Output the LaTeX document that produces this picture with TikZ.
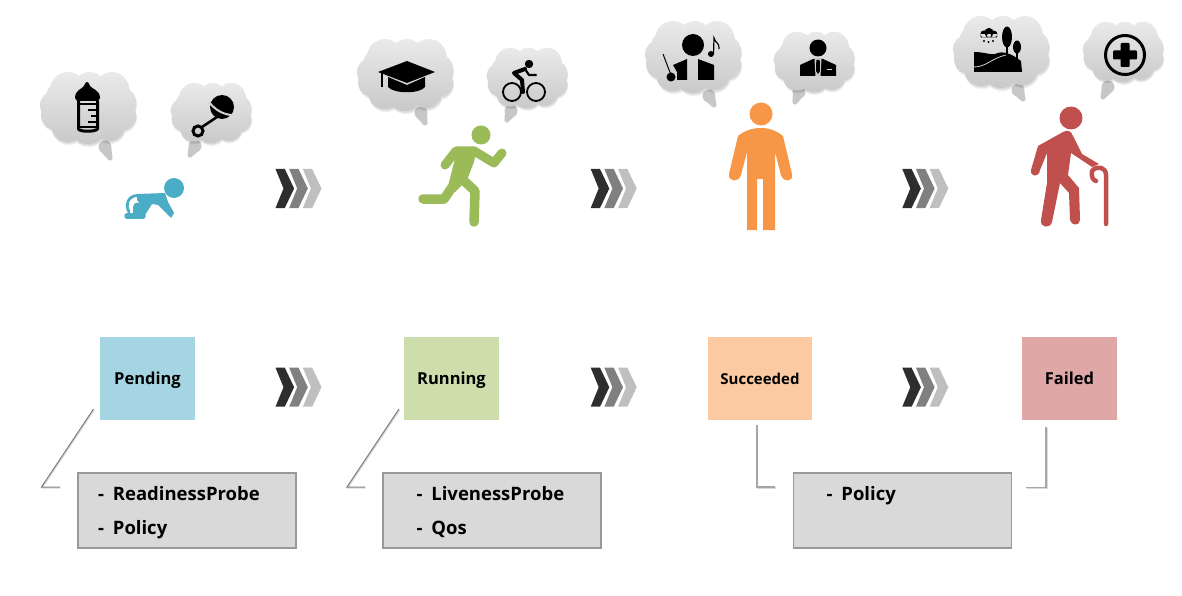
\documentclass[tikz,border=0pt]{standalone}
\usepackage{fontspec}
\setmainfont{Open Sans}
\usetikzlibrary{calc,shadows}
\definecolor{babyblue}{HTML}{4BACC6}
\definecolor{runnergreen}{HTML}{9BBB59}
\definecolor{adultorange}{HTML}{F79646}
\definecolor{elderred}{HTML}{C0504D}
\definecolor{pendingfill}{HTML}{A5D5E2}
\definecolor{runningfill}{HTML}{CDDDAC}
\definecolor{succeededfill}{HTML}{FBCAA2}
\definecolor{failedfill}{HTML}{DFA7A6}
\definecolor{notefill}{HTML}{D9D9D9}
\definecolor{cloudtop}{HTML}{EAEAEA}
\definecolor{cloudbottom}{HTML}{C9C9C9}

\tikzset{
  statebox/.style={minimum height=83pt,inner sep=0pt,text height=12pt,text depth=0pt,font=\bfseries\fontsize{16.5}{18}\selectfont,text=black},
  notebox/.style={draw=black!40,line width=1.5pt,fill=notefill,minimum width=218pt,minimum height=75pt,inner sep=0pt,
    drop shadow={shadow xshift=1pt,shadow yshift=-1.6pt,opacity=.4,fill=black!70}},
  noteline/.style={anchor=base west,inner sep=0pt,font=\bfseries\fontsize{18.5}{20}\selectfont,text=black},
  leader/.style={draw=black!50,line width=1pt,preaction={draw=black!15,line width=1.2pt,transform canvas={xshift=.7pt,yshift=-1pt}}},
  elbow/.style={draw=black!35,line width=1.6pt,preaction={draw=black!15,line width=1.6pt,transform canvas={xshift=.8pt,yshift=-1pt}}},
  figure line/.style={line cap=round,line join=round}
}

% the lobes of a thought cloud, as one path of overlapping circles
\newcommand{\lobes}{
  (0,0) circle (30) (-20,-18) circle (18) (2,-20) circle (16) (24,-19) circle (17)
  (33,-6) circle (15) (33,7) circle (15) (21,17) circle (16) (0,18) circle (18)
  (-20,17) circle (17) (-33,7) circle (14) (-34,-3) circle (14) (-27,-11) circle (15)
}
% cloud: centre x, centre y, scale
\newcommand{\thoughtcloud}[3]{
  \begin{scope}[shift={(#1,#2)},scale=#3]
    \fill[black,opacity=.06] [shift={(1,3.2)}] \lobes;
    \fill[black,opacity=.09] [shift={(.6,1.8)}] \lobes;
    \shade[top color=cloudtop,bottom color=cloudbottom] \lobes;
  \end{scope}
}
% tail of a cloud: from the blob to its tip
\newcommand{\cloudtail}[4]{
  \coordinate (ta) at (#1,#2);
  \coordinate (tb) at (#3,#4);
  \fill[black!22] ($(ta)!6.5pt!90:(tb)$) -- ($(tb)!2.6pt!-90:(ta)$) -- ($(tb)!2.6pt!90:(ta)$) -- ($(ta)!6.5pt!-90:(tb)$) -- cycle
    (ta) circle (6.5) (tb) circle (2.6);
}
\tikzset{
  chevrons/.pic={
    \foreach \dx/\shade in {27.4/black!25,13.7/black!50,0/black!82}{
      \fill[\shade] (\dx,0) -- ++(9.3,0) -- ++(9.3,19.5) -- ++(-9.3,19.5) -- ++(-9.3,0) -- ++(8,-19.5) -- cycle;
    }
  }
}

\begin{document}
\begin{tikzpicture}[x=1pt,y=-1pt]
\useasboundingbox (0,0) rectangle (1182,596);

% ---- thought clouds ----
\cloudtail{105}{147}{110}{158}
\cloudtail{195}{146}{190}{155}
\thoughtcloud{88}{108}{1}
\thoughtcloud{211}{113}{.84}
\cloudtail{421}{113}{425}{123}
\cloudtail{511}{111}{507}{120}
\thoughtcloud{405}{75}{1}
\thoughtcloud{527}{78}{.84}
\cloudtail{709}{96}{714}{105}
\cloudtail{799}{92}{795}{102}
\thoughtcloud{693}{57}{1}
\thoughtcloud{814}{62}{.84}
\cloudtail{1018}{90}{1023}{99}
\cloudtail{1108}{87}{1103}{97}
\thoughtcloud{1001}{52}{1}
\thoughtcloud{1123}{52}{.84}

% ---- feeding bottle ----
\fill[black,figure line] (75,98) .. controls (75,90) and (82,89) .. (84,86) .. controls (85,83) and (86,82) .. (87,82)
  .. controls (88,82) and (89,83) .. (90,86) .. controls (92,89) and (100,90) .. (100,98) -- (98,101) -- (77,101) -- cycle;
\draw[black,line width=3pt,line join=round,line cap=round] (78.5,101) -- (78.5,129) .. controls (80,132) and (95,132) .. (97.5,129) -- (97.5,101);
\draw[black,line width=2.2pt] (97,110) -- (88,110) (97,116) -- (91,116) (97,122) -- (88,122) (97,127) -- (80,127);
\draw[black,line width=1.6pt] (77,104) -- (98,104);

% ---- rattle ----
\fill[black] (222,107) circle (12);
\draw[cloudtop!90!black,line width=2pt] (209,102) .. controls (215,110) and (224,115) .. (233,115);
\draw[black,line width=2.6pt] (217,117) -- (202,127);
\draw[black,line width=3pt] (198,131) circle (5);

% ---- graduation cap ----
\fill[black] (378,72) -- (407,61) -- (435,72) -- (407,83) -- cycle;
\fill[black] (388,77) -- (407,85) -- (425,77) -- (425,87) .. controls (420,94) and (394,94) .. (388,87) -- cycle;
\draw[black,line width=2pt] (382,72) -- (382,87);

% ---- cyclist ----
\draw[black,line width=1.8pt] (512,92) circle (9) (536,92) circle (9);
\fill[black] (529,64) circle (4.2);
\draw[black,line width=4pt,figure line] (525,69) -- (514,73) -- (522,80) -- (523,92);
\draw[black,line width=2.2pt,figure line] (525,69) -- (529,75) -- (536,75);

% ---- conductor ----
\fill[black] (693,45) circle (11);
\fill[black] (687,59) -- (687,80) -- (677,80) -- (677,72) -- (673,65) -- cycle;
\fill[black] (698,59) -- (714,65) -- (714,80) -- (698,80) -- cycle;
\draw[black,line width=1pt] (663,54) -- (671,75);
\fill[black] (671,77) circle (4.5);
\fill[black] (711,54) circle (3);
\draw[black,line width=1.2pt] (713.5,54) -- (714,38) .. controls (715,43) and (720,43) .. (719,49);

% ---- businessman ----
\fill[black] (818,48) circle (8.5);
\fill[black] (800,76) -- (800,65) -- (813,59) -- (823,59) -- (836,65) -- (836,76) -- cycle;
\fill[cloudbottom!90!white] (814.5,59) -- (821.5,59) -- (820.5,76) -- (815.5,76) -- cycle;
\fill[black] (816.3,60) -- (819.7,60) -- (820,71) -- (818,74) -- (816,71) -- cycle;
\draw[cloudbottom!70!white,line width=.8pt] (827,69) -- (832,69);

% ---- landscape ----
\fill[black] (984,34) circle (3.6) (989,32.5) circle (4.6) (994,34) circle (3.4) (980.5,34) rectangle (997,37.5);
\fill[black] (984,41) circle (1.1) (988.5,42) circle (1.1) (993,41) circle (1.1);
\fill[black] (1007,37) ellipse (5 and 10.5);
\draw[black,line width=1.3pt] (1007,37) -- (1007,58);
\fill[black] (1017,47) ellipse (4 and 6.5);
\draw[black,line width=1.1pt] (1017,47) -- (1017,62);
\fill[black] (974,52) .. controls (984,52) and (990,55) .. (995,54) .. controls (1003,50) and (1012,54) .. (1021,61)
  -- (1022,72) -- (974,72) -- cycle;
\draw[cloudbottom!85!white,line width=.8pt] (974,67) .. controls (986,67) and (992,58) .. (1006,55);

% ---- medical cross ----
\draw[black,line width=3pt] (1125,55) circle (19.5);
\fill[black,rounded corners=1pt] (1120.5,43) rectangle (1129.5,67) (1113,50.5) rectangle (1137,59.5);

% ---- crawling baby ----
\fill[babyblue] (174,188) circle (10);
\fill[babyblue,figure line] (137,194) -- (165,193) -- (168,202) -- (174,213) -- (171,218) -- (158,205) -- (152,204) -- (145,215) -- (141,215) -- (141,205) -- (137,200) -- cycle;
\draw[babyblue,line width=2.8pt,figure line] (137,195.5) .. controls (128,196) and (125,205) .. (129,212);
\draw[babyblue,line width=5.5pt,figure line] (127,216) -- (143,216);
\fill[babyblue] (137.5,207) circle (4.5);
\fill[babyblue] (133.2,207) rectangle (143,215);

% ---- runner ----
\fill[runnergreen] (481,135) circle (9.5);
\draw[runnergreen,line width=9pt,figure line] (445,165) -- (456,151) -- (474,151) -- (494,163) -- (502,153);
\fill[runnergreen,figure line] (458,147) -- (477,147) -- (474,162) -- (467,180) -- (455,192) -- (447,190) -- cycle;
\draw[runnergreen,line width=9.5pt,figure line] (457,180) -- (444,199) -- (423,199);
\draw[runnergreen,line width=9.5pt,figure line] (461,178) -- (475,191) -- (474,222);

% ---- standing adult ----
\fill[adultorange] (761,114) circle (11.5);
\fill[adultorange] (761,128) .. controls (752,128) and (744,131) .. (738,136)
  -- (729,174) .. controls (728,182) and (739,183) .. (741,175) -- (747,152) -- (747,230) -- (757,230) -- (757,179) -- (763,179) -- (763,230) -- (775,230)
  -- (775,152) -- (781,175) .. controls (783,183) and (794,182) .. (792,174) -- (783,136) .. controls (777,131) and (770,128) .. (761,128) -- cycle;

% ---- elder with cane ----
\fill[elderred] (1071,118) circle (11.5);
\fill[elderred,figure line] (1063,132) -- (1038,146) -- (1031,170) .. controls (1030,177) and (1039,178) .. (1040,170) -- (1047,153) -- (1047,183) -- (1041,220)
  .. controls (1040,228) and (1050,229) .. (1052,222) -- (1060,183) -- (1069,193) -- (1070,220) .. controls (1071,226) and (1080,226) .. (1080,220) -- (1079,188) -- (1068,175) -- (1071,153)
  -- (1092,167) -- (1099,164) -- (1082,154) -- (1073,136) .. controls (1071,130) and (1067,130) .. (1063,132) -- cycle;
\draw[elderred,line width=4.5pt,figure line] (1106,224) -- (1106,175) .. controls (1106,167) and (1097,165) .. (1092,171) .. controls (1091,177) and (1093,180) .. (1096,181);

% ---- chevrons of both rows ----
\foreach \cx in {275.5,590.7,902.3}{
  \pic at (\cx,169) {chevrons};
  \pic at (\cx,367.7) {chevrons};
}

% ---- state boxes ----
\node[statebox,fill=pendingfill,minimum width=95pt] (pending) at (147.5,378.5) {Pending};
\node[statebox,fill=runningfill,minimum width=95pt] (running) at (451.5,378.5) {Running};
\node[statebox,fill=succeededfill,minimum width=104pt,font=\bfseries\fontsize{15}{18}\selectfont] (succeeded) at (760,378.5) {Succeeded};
\node[statebox,fill=failedfill,minimum width=95pt] (failed) at (1069.5,378.5) {Failed};

% ---- note boxes and their texts ----
\node[notebox] (notea) at (186.8,510.3) {};
\node[notebox] (noteb) at (491.8,510.3) {};
\node[notebox] (notec) at (902.3,510.3) {};
\newcommand{\noteitem}[1]{\makebox[14.7pt][l]{-}#1}
\node[noteline] (readiness) at (98,500) {\noteitem{ReadinessProbe}};
\node[noteline] (policya) at (98,534.5) {\noteitem{Policy}};
\node[noteline] (liveness) at (416.5,500) {\noteitem{LivenessProbe}};
\node[noteline] (qos) at (416.5,534.5) {\noteitem{Qos}};
\node[noteline] (policyc) at (826.5,500) {\noteitem{Policy}};

% ---- leader lines beside the notes ----
\coordinate (la) at (93.5,409);
\coordinate (lak) at (41.5,487);
\coordinate (lae) at (60,487);
\coordinate (lb) at (399,409);
\coordinate (lbk) at (347,487);
\coordinate (lbe) at (365,487);
\coordinate (lc) at (756.7,425);
\coordinate (lck) at (756.7,487);
\coordinate (lce) at (775,487);
\coordinate (ld) at (1046,427);
\coordinate (ldk) at (1046,487.5);
\coordinate (lde) at (1026,487.5);
\draw[leader] (la) -- (lak) -- (lae);
\draw[leader] (lb) -- (lbk) -- (lbe);
\draw[elbow] (lc) -- (lck) -- (lce);
\draw[elbow] (ld) -- (ldk) -- (lde);
\end{tikzpicture}
\end{document}
